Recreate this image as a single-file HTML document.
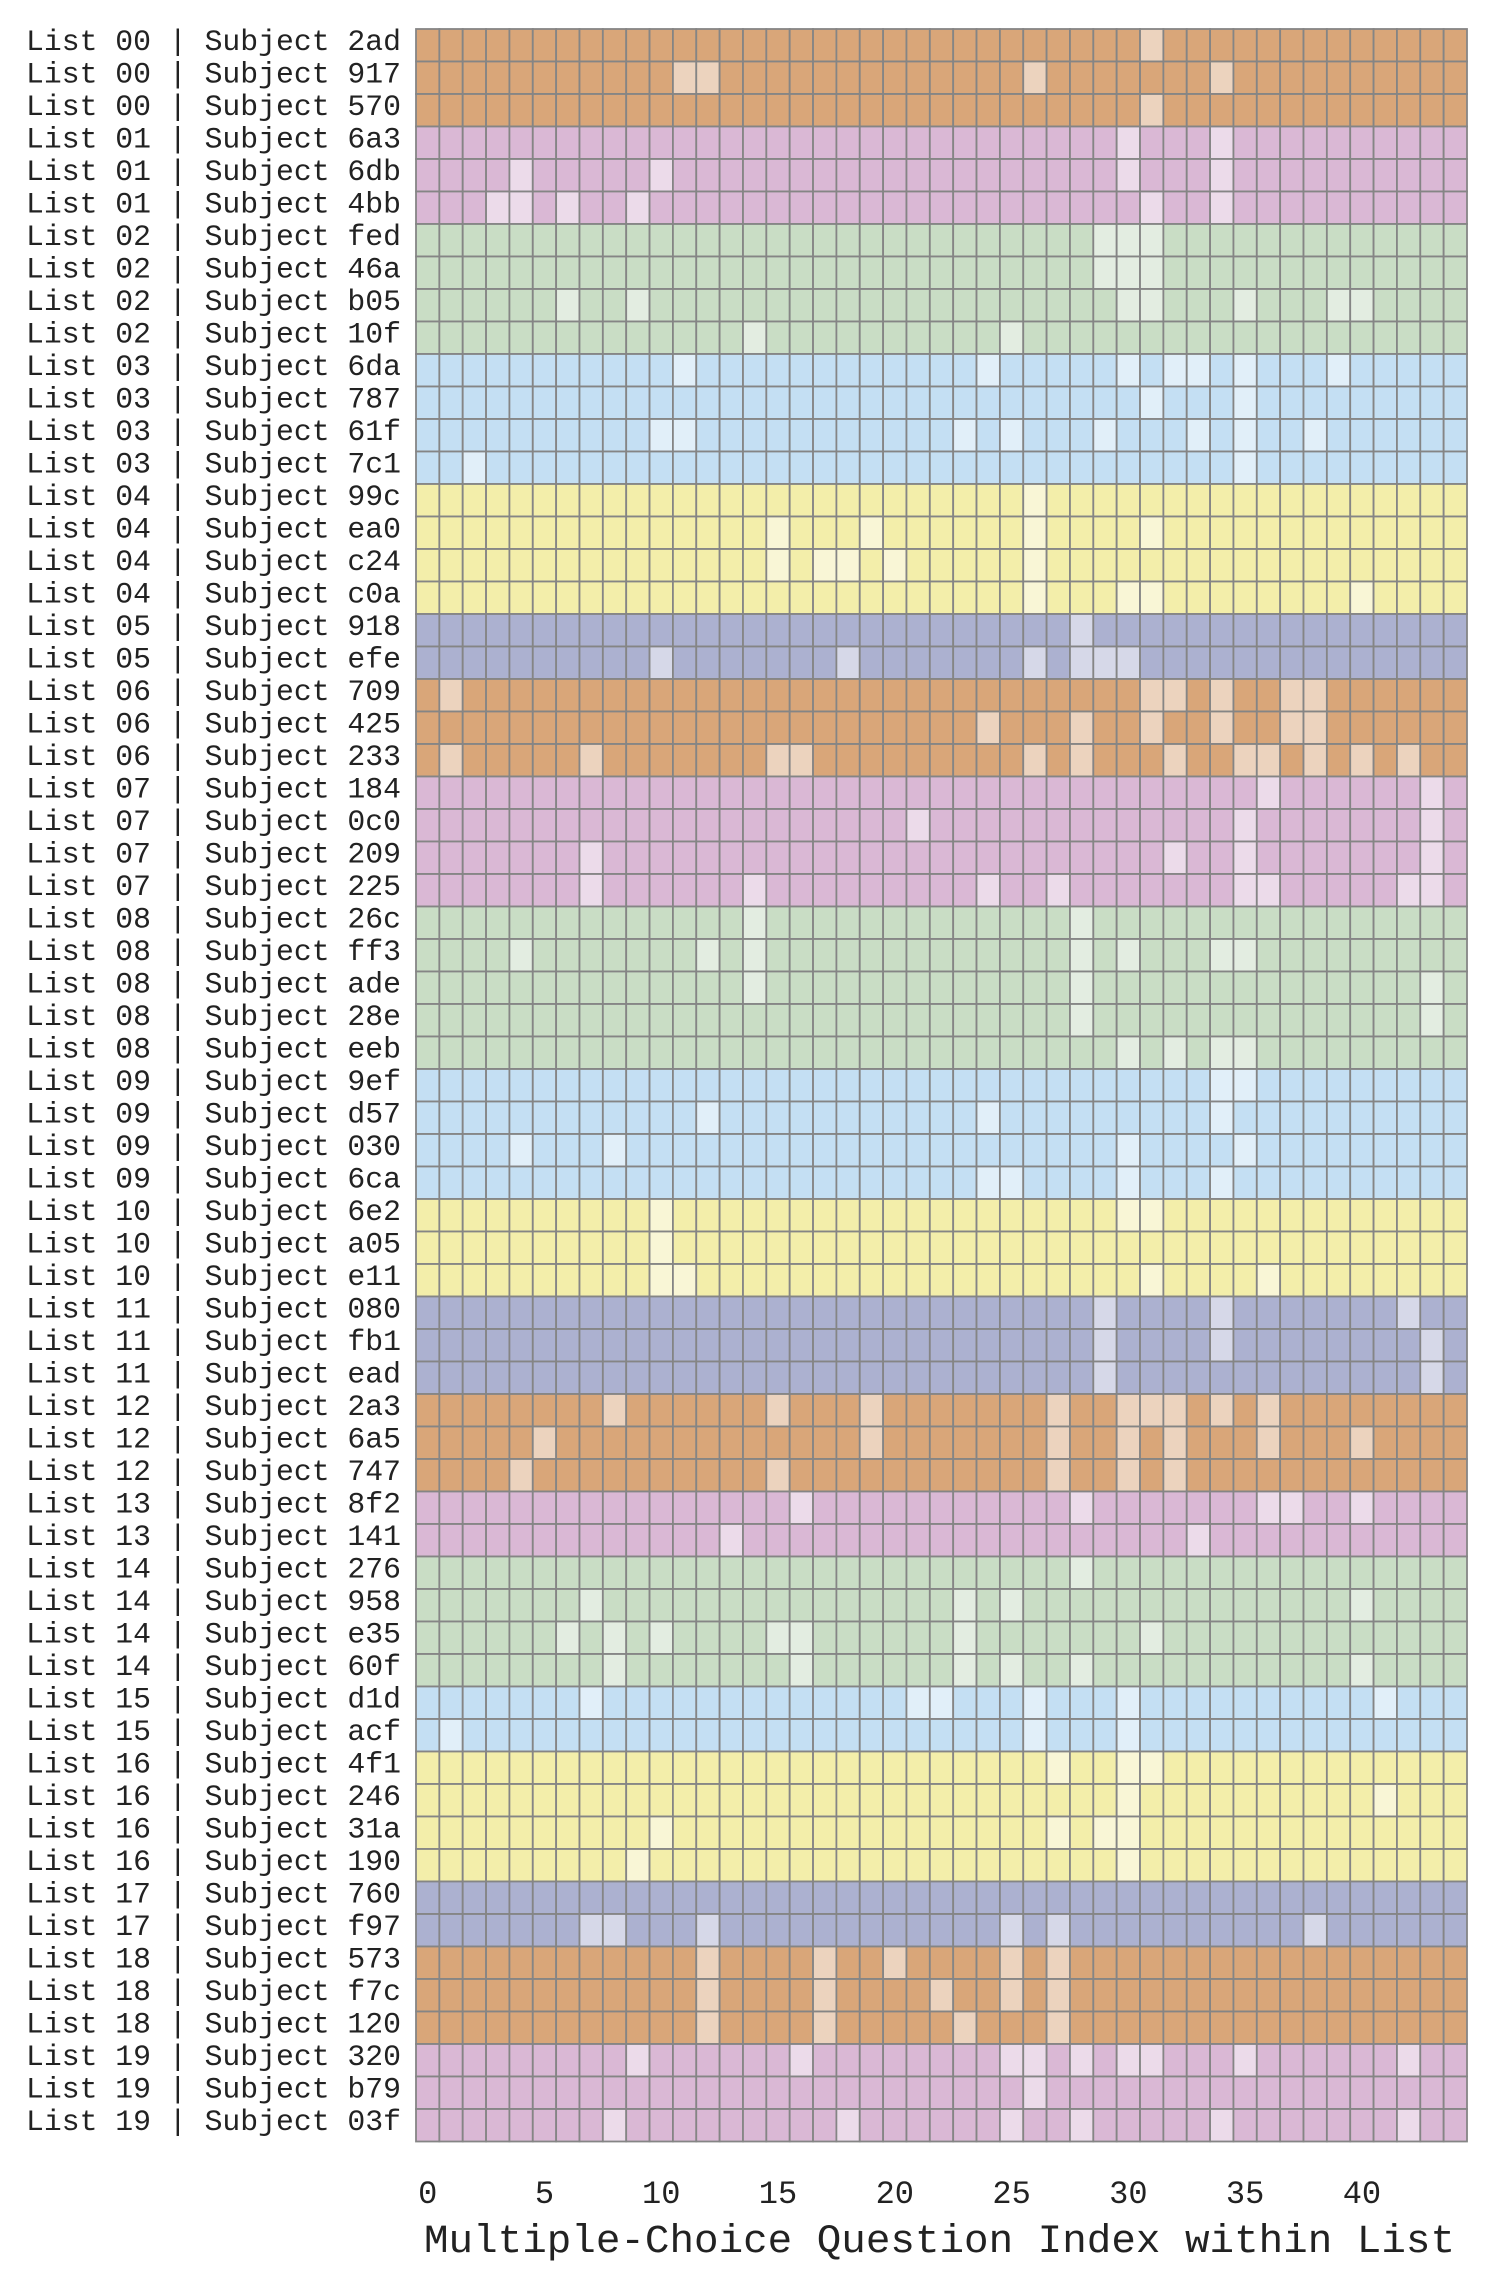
<!DOCTYPE html>
<html><head><meta charset="utf-8"><style>
html,body{margin:0;padding:0;background:#fff;}
svg{display:block;}
text{font-family:"Liberation Mono","Courier New",monospace;fill:#222;}
</style></head><body>
<svg id="chart" width="1495" height="2288" viewBox="0 0 1495 2288" xmlns="http://www.w3.org/2000/svg">
<g id="labels"></g>
<g id="cells"></g>
<g id="xticks"></g>
<text x="424" y="2252" font-size="40" textLength="1031" lengthAdjust="spacingAndGlyphs">Multiple-Choice Question Index within List</text>
</svg>
<script>
// data
const listIds = ["00","01","02","03","04","05","06","07","08","09","10","11","12","13","14","15","16","17","18","19"];
const subjects = [
["2ad","917","570"],["6a3","6db","4bb"],["fed","46a","b05","10f"],["6da","787","61f","7c1"],
["99c","ea0","c24","c0a"],["918","efe"],["709","425","233"],["184","0c0","209","225"],
["26c","ff3","ade","28e","eeb"],["9ef","d57","030","6ca"],["6e2","a05","e11"],["080","fb1","ead"],
["2a3","6a5","747"],["8f2","141"],["276","958","e35","60f"],["d1d","acf"],
["4f1","246","31a","190"],["760","f97"],["573","f7c","120"],["320","b79","03f"]];
// question indices answered differently (light cells), per subject row
const lightCells = [
[31],[11,12,26,34],[31],
[30,34],[4,10,30,34],[3,4,6,9,31,34],
[29,30,31],[29,30,31],[6,9,30,31,35,39,40],[14,25],
[11,24,30,32,33,35,39],[31,35],[10,11,23,25,29,33,35,38],[2,35],
[26],[15,19,26,31],[15,17,18,20,26],[26,30,31,40],
[28],[10,18,26,28,29,30],
[1,31,32,34,37,38],[24,28,31,34,37,38],[1,7,15,16,26,28,32,35,36,38,40,42],
[36,43],[21,35,43],[7,32,35,43],[7,14,24,27,35,36,42,43],
[14,28],[4,12,14,28,30,34,35],[14,28,43],[28,43],[30,32,34,35],
[34,35],[12,24,34],[4,8,30,35],[24,25,30,34],
[10,30,31],[10],[10,11,31,36],
[29,34,42],[29,34,43],[29,43],
[8,15,19,27,30,31,32,34,36],[5,19,27,30,32,36,40],[4,15,27,30,32],
[16,28,36,37,40],[13,33],
[28],[7,23,25,40],[6,8,10,15,16,23,31],[8,16,23,25,28,40],
[7,21,22,26,30,41],[1,26,30],
[27,30,31],[30,41],[10,27,29,30],[9,30],
[],[7,8,12,25,27,38],
[12,17,20,25,27],[12,17,22,25,27],[12,17,23,27],
[9,16,25,26,28,30,31,35,42],[26],[8,18,25,28,34,42]];
const xTickLabels = [0,5,10,15,20,25,30,35,40];
const nCols = 45;
const baseColors = ["#d9a679","#dab8d5","#c9ddc5","#c4dff3","#f3eeaa","#acb1d0"];
const lightColors = ["#ecd3be","#ecdbea","#e3ede1","#e1eff9","#f9f6d6","#d6d8e8"];

const NS="http://www.w3.org/2000/svg";
const gx0=416, gx1=1467, gy0=29, rowH=32.5;
const colW=(gx1-gx0)/nCols;
const xPos = c => gx0 + c*colW;
const yPos = r => gy0 + r*rowH;
const cells=document.getElementById('cells');
const labels=document.getElementById('labels');
const xt=document.getElementById('xticks');
let r=0;
listIds.forEach((lid,li)=>{
  subjects[li].forEach(sub=>{
    const t=document.createElementNS(NS,'text');
    
    
    t.setAttribute('x',401);t.setAttribute('y',yPos(r)+21);
    t.setAttribute('font-size','29.5');t.setAttribute('text-anchor','end');
    t.setAttribute('textLength','375');t.setAttribute('lengthAdjust','spacingAndGlyphs');
    t.textContent='List '+lid+' | Subject '+sub;
    labels.appendChild(t);
    const lights=lightCells[r]||[];
    for(let c=0;c<nCols;c++){
      const rc=document.createElementNS(NS,'rect');
      
      
      rc.setAttribute('x',xPos(c));rc.setAttribute('y',yPos(r));
      rc.setAttribute('width',colW);rc.setAttribute('height',rowH);
      rc.setAttribute('fill',lights.includes(c)?lightColors[li%6]:baseColors[li%6]);
      rc.setAttribute('stroke','#858585');rc.setAttribute('stroke-width','1.8');
      cells.appendChild(rc);
    }
    r++;
  });
});
xTickLabels.forEach(v=>{
  const t=document.createElementNS(NS,'text');
  
  
  t.setAttribute('x',xPos(v)+colW/2);t.setAttribute('y',2203);
  t.setAttribute('font-size','32');t.setAttribute('text-anchor','middle');
  t.textContent=v;
  xt.appendChild(t);
});
</script>
</body></html>
